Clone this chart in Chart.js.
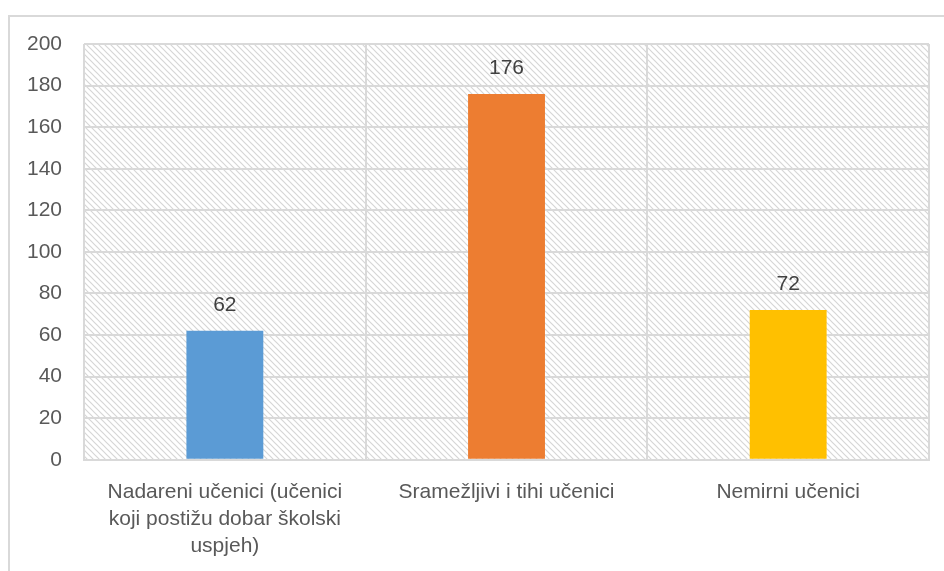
<!DOCTYPE html>
<html>
<head>
<meta charset="utf-8">
<script src="https://cdn.jsdelivr.net/npm/chart.js@4.4.0/dist/chart.umd.min.js"></script>
<style>
  html, body { margin: 0; padding: 0; background: #fff; }
  #wrap { width: 944px; height: 571px; position: relative; }
</style>
</head>
<body>
<div id="wrap"><canvas id="barChart"></canvas></div>
<script>
const categories = [
  ['Nadareni učenici (učenici', 'koji postižu dobar školski', 'uspjeh)'],
  'Sramežljivi i tihi učenici',
  'Nemirni učenici'
];
const counts = [62, 176, 72];
const barColors = ['#5B9BD5', '#ED7D31', '#FFC000'];
const yTicks = [0, 20, 40, 60, 80, 100, 120, 140, 160, 180, 200];

// diagonal hatch for the plot area
function makeHatch() {
  const c = document.createElement('canvas');
  c.width = 6; c.height = 6;
  const g = c.getContext('2d');
  g.strokeStyle = '#d6d6d6';
  g.lineWidth = 1.2;
  g.beginPath();
  g.moveTo(-1, -1); g.lineTo(7, 7);
  g.moveTo(-1, 5); g.lineTo(1, 7);
  g.moveTo(5, -1); g.lineTo(7, 1);
  g.stroke();
  return g.createPattern(c, 'repeat');
}

const background = {
  id: 'background',
  beforeDraw(chart) {
    const ctx = chart.ctx, a = chart.chartArea;
    ctx.save();
    ctx.strokeStyle = '#d9d9d9';
    ctx.lineWidth = 2;
    ctx.strokeRect(9, 16, 960, 600);
    ctx.fillStyle = makeHatch();
    ctx.fillRect(a.left, a.top, a.right - a.left, a.bottom - a.top);
    ctx.restore();
  }
};

const valueLabels = {
  id: 'valueLabels',
  afterDatasetsDraw(chart) {
    const ctx = chart.ctx;
    const meta = chart.getDatasetMeta(0);
    ctx.save();
    ctx.fillStyle = '#404040';
    ctx.font = '21px "Liberation Sans", sans-serif';
    ctx.textAlign = 'center';
    ctx.textBaseline = 'middle';
    meta.data.forEach((bar, i) => {
      ctx.fillText(counts[i], bar.x, bar.y - 26);
    });
    ctx.restore();
  }
};

const bar = document.getElementById('barChart').getContext('2d');
const barChart = new Chart(bar, {
  type: 'bar',
  data: {
    labels: categories,
    datasets: [{
      data: counts,
      backgroundColor: barColors,
      borderWidth: 0,
      categoryPercentage: 0.273,
      barPercentage: 1
    }]
  },
  options: {
    responsive: true,
    maintainAspectRatio: false,
    animation: false,
    layout: { padding: { left: 5, top: 44, right: 15, bottom: -7 } },
    scales: {
      x: {
        grid: { color: '#d9d9d9', lineWidth: 2, offset: true, drawTicks: false },
        border: { color: '#d9d9d9', width: 2 },
        ticks: {
          color: '#595959',
          font: { family: '"Liberation Sans", sans-serif', size: 21, lineHeight: 1.29 },
          padding: 18.5,
          maxRotation: 0,
          autoSkip: false
        }
      },
      y: {
        min: 0,
        max: 200,
        afterBuildTicks(axis) { axis.ticks = yTicks.map(v => ({ value: v })); },
        grid: { color: '#d9d9d9', lineWidth: 2, drawTicks: false },
        border: { display: false },
        ticks: {
          color: '#595959',
          font: { family: '"Liberation Sans", sans-serif', size: 21 },
          padding: 22
        }
      }
    },
    plugins: {
      legend: { display: false },
      tooltip: { enabled: false }
    }
  },
  plugins: [background, valueLabels]
});
</script>
</body>
</html>
